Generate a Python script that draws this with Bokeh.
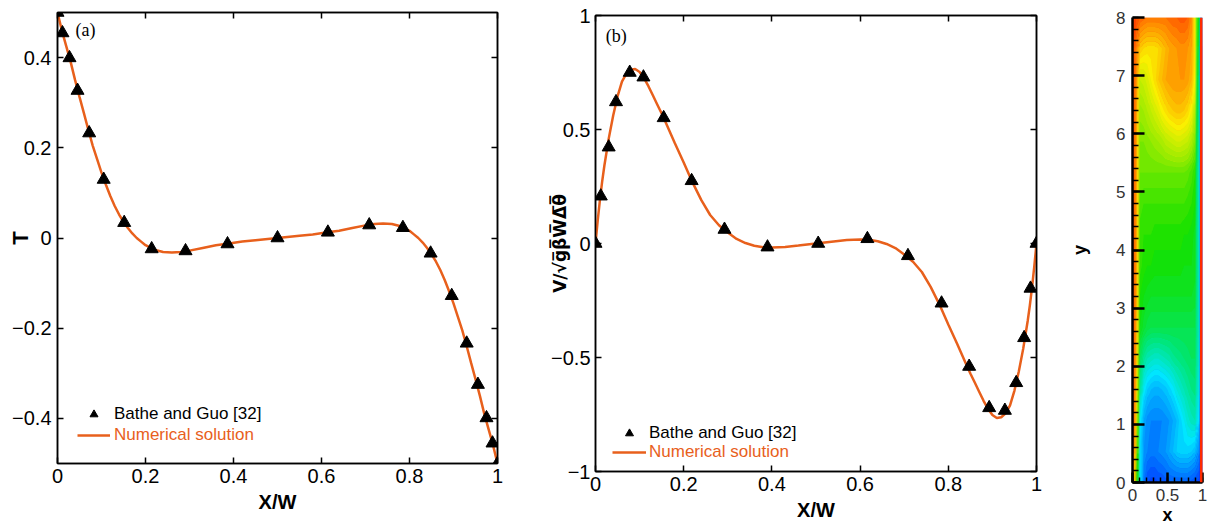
import numpy as np
from bokeh.plotting import figure
from bokeh.layouts import row, column
from bokeh.models import (FixedTicker, LinearAxis, Legend, LegendItem, Label,
                          Span, LinearColorMapper, Spacer)
from bokeh.embed import file_html
from bokeh.resources import INLINE

# ---------------- data: panel (a) temperature profile ----------------
ref_x_a = [0.0, 0.0113, 0.0273, 0.0455, 0.072, 0.105, 0.1516, 0.214, 0.291, 0.3864, 0.5,
           0.6145, 0.7085, 0.785, 0.848, 0.896, 0.930, 0.9555, 0.975, 0.9887, 1.0]
ref_T_a = [0.5, 0.4546, 0.3993, 0.327, 0.2327, 0.1297, 0.034, -0.0243, -0.0287, -0.0133, 0.0,
           0.0126, 0.0287, 0.0228, -0.0339, -0.128, -0.2335, -0.325, -0.399, -0.455, -0.5]

num_x_a = [0.0, 0.01, 0.02, 0.03, 0.04, 0.05, 0.06, 0.07, 0.08, 0.09, 0.10, 0.11, 0.12, 0.13,
           0.14, 0.15, 0.16, 0.17, 0.18, 0.19, 0.20, 0.22, 0.24, 0.26, 0.28, 0.30, 0.33, 0.36,
           0.39, 0.42, 0.45, 0.50, 0.55, 0.58, 0.61, 0.64, 0.67, 0.70, 0.72, 0.74, 0.76, 0.78,
           0.80, 0.81, 0.82, 0.83, 0.84, 0.85, 0.86, 0.87, 0.88, 0.89, 0.90, 0.91, 0.92, 0.93,
           0.94, 0.95, 0.96, 0.97, 0.98, 0.99, 1.0]
num_T_a = [0.5, 0.46, 0.425, 0.39, 0.35, 0.313, 0.277, 0.24, 0.205, 0.175, 0.145, 0.118, 0.093,
           0.071, 0.052, 0.036, 0.022, 0.010, 0.0, -0.008, -0.016, -0.026, -0.031, -0.032,
           -0.031, -0.028, -0.022, -0.016, -0.012, -0.008, -0.005, 0.0, 0.005, 0.008, 0.012,
           0.016, 0.022, 0.028, 0.031, 0.032, 0.031, 0.026, 0.016, 0.008, 0.0, -0.010, -0.022,
           -0.036, -0.052, -0.071, -0.093, -0.118, -0.145, -0.175, -0.205, -0.24, -0.277,
           -0.313, -0.35, -0.39, -0.425, -0.46, -0.5]

# ---------------- data: panel (b) vertical velocity profile ----------------
ref_x_b = [0.0, 0.012, 0.0299, 0.0465, 0.0776, 0.1087, 0.1546, 0.218, 0.2925, 0.39, 0.505,
           0.6165, 0.7085, 0.7847, 0.8473, 0.8927, 0.9283, 0.954, 0.972, 0.9864, 1.0]
ref_V_b = [0.0, 0.2075, 0.4225, 0.621, 0.75, 0.7295, 0.551, 0.275, 0.0614, -0.016, 0.0,
           0.0206, -0.054, -0.262, -0.5395, -0.7208, -0.7325, -0.611, -0.4137, -0.197, 0.0]

num_x_b = [0.0, 0.005, 0.01, 0.015, 0.02, 0.03, 0.04, 0.05, 0.06, 0.07, 0.08, 0.09, 0.10, 0.11,
           0.12, 0.13, 0.14, 0.15, 0.16, 0.18, 0.20, 0.22, 0.24, 0.26, 0.28, 0.30, 0.32, 0.34,
           0.36, 0.38, 0.40, 0.43, 0.46, 0.50, 0.54, 0.57, 0.60, 0.62, 0.64, 0.66, 0.68, 0.70,
           0.72, 0.74, 0.76, 0.78, 0.80, 0.82, 0.84, 0.85, 0.86, 0.87, 0.88, 0.89, 0.90, 0.91,
           0.92, 0.93, 0.94, 0.95, 0.96, 0.97, 0.98, 0.985, 0.99, 0.995, 1.0]
num_V_b = [0.0, 0.10, 0.19, 0.27, 0.34, 0.46, 0.56, 0.645, 0.71, 0.745, 0.762, 0.765, 0.752,
           0.725, 0.69, 0.65, 0.61, 0.57, 0.527, 0.44, 0.355, 0.268, 0.19, 0.125, 0.08, 0.048,
           0.02, 0.002, -0.01, -0.016, -0.017, -0.015, -0.009, 0.0, 0.009, 0.015, 0.017, 0.016,
           0.01, -0.002, -0.02, -0.048, -0.08, -0.125, -0.19, -0.268, -0.355, -0.44, -0.527,
           -0.57, -0.61, -0.65, -0.69, -0.725, -0.752, -0.765, -0.762, -0.745, -0.71, -0.645,
           -0.56, -0.46, -0.34, -0.27, -0.19, -0.10, 0.0]

# ---------------- data: panel (c) temperature field (rows top -> bottom) ----------------
field_rows_top_down = [
    [0.45, 0.44, 0.42, 0.41, 0.40, 0.40, 0.40, 0.40, 0.40, 0.40, 0.41, 0.42, 0.42, 0.43, 0.43, 0.42, 0.38, 0.25, -0.05, -0.40],
    [0.45, 0.38, 0.30, 0.28, 0.27, 0.27, 0.27, 0.28, 0.30, 0.32, 0.34, 0.35, 0.36, 0.37, 0.37, 0.36, 0.34, 0.26, -0.10, -0.45],
    [0.45, 0.35, 0.18, 0.19, 0.21, 0.24, 0.27, 0.30, 0.32, 0.34, 0.35, 0.36, 0.36, 0.36, 0.36, 0.35, 0.32, 0.24, -0.14, -0.45],
    [0.45, 0.34, 0.13, 0.14, 0.16, 0.18, 0.20, 0.22, 0.25, 0.27, 0.29, 0.30, 0.31, 0.31, 0.30, 0.28, 0.24, 0.16, -0.15, -0.45],
    [0.45, 0.33, 0.10, 0.10, 0.11, 0.12, 0.13, 0.14, 0.15, 0.17, 0.18, 0.19, 0.20, 0.20, 0.19, 0.18, 0.15, 0.10, -0.17, -0.45],
    [0.45, 0.33, 0.08, 0.08, 0.08, 0.08, 0.08, 0.08, 0.08, 0.08, 0.08, 0.08, 0.08, 0.08, 0.08, 0.07, 0.05, 0.02, -0.19, -0.45],
    [0.45, 0.33, 0.05, 0.04, 0.04, 0.04, 0.04, 0.04, 0.04, 0.04, 0.04, 0.04, 0.04, 0.04, 0.04, 0.03, 0.02, 0.00, -0.19, -0.45],
    [0.45, 0.33, 0.03, 0.02, 0.02, 0.02, 0.01, 0.01, 0.01, 0.01, 0.01, 0.01, 0.01, 0.01, 0.00, 0.00, -0.01, -0.03, -0.19, -0.45],
    [0.45, 0.33, 0.03, 0.01, 0.00, 0.00, -0.01, -0.01, -0.01, -0.01, -0.01, -0.01, -0.01, -0.01, -0.02, -0.02, -0.02, -0.03, -0.19, -0.45],
    [0.45, 0.32, 0.00, -0.02, -0.03, -0.04, -0.04, -0.04, -0.04, -0.04, -0.04, -0.04, -0.04, -0.04, -0.04, -0.04, -0.04, -0.05, -0.19, -0.45],
    [0.45, 0.31, -0.02, -0.05, -0.07, -0.08, -0.08, -0.08, -0.08, -0.08, -0.08, -0.08, -0.08, -0.08, -0.08, -0.08, -0.08, -0.08, -0.19, -0.45],
    [0.45, 0.29, -0.10, -0.15, -0.18, -0.19, -0.20, -0.20, -0.19, -0.18, -0.17, -0.15, -0.14, -0.13, -0.12, -0.11, -0.10, -0.10, -0.20, -0.45],
    [0.45, 0.26, -0.16, -0.24, -0.28, -0.30, -0.31, -0.31, -0.30, -0.29, -0.27, -0.25, -0.22, -0.20, -0.18, -0.16, -0.14, -0.13, -0.22, -0.45],
    [0.45, 0.22, -0.24, -0.32, -0.35, -0.36, -0.36, -0.36, -0.36, -0.35, -0.34, -0.32, -0.30, -0.27, -0.24, -0.21, -0.19, -0.18, -0.26, -0.45],
    [0.45, 0.15, -0.26, -0.34, -0.36, -0.37, -0.37, -0.36, -0.35, -0.34, -0.32, -0.30, -0.28, -0.27, -0.27, -0.27, -0.28, -0.30, -0.35, -0.45],
    [0.40, 0.05, -0.25, -0.38, -0.42, -0.43, -0.43, -0.42, -0.42, -0.41, -0.40, -0.40, -0.40, -0.40, -0.40, -0.40, -0.41, -0.42, -0.43, -0.45],
]

x_ticks = [0, 0.2, 0.4, 0.6, 0.8, 1]
y_ticks_a = [-0.4, -0.2, 0, 0.2, 0.4]
y_ticks_b = [-1, -0.5, 0, 0.5, 1]

# ---------------- styling ----------------
ORANGE = "#E8601C"
FONT = "Liberation Sans"


def frame_axes(p, xt, yt):
    p.grid.visible = False
    p.outline_line_color = "black"
    p.outline_line_width = 1.5
    p.xaxis.ticker = FixedTicker(ticks=xt)
    p.yaxis.ticker = FixedTicker(ticks=yt)
    for ax in p.xaxis + p.yaxis:
        ax.major_tick_in = 6
        ax.major_tick_out = 0
        ax.minor_tick_in = 0
        ax.minor_tick_out = 0
        ax.axis_line_width = 1.5
        ax.major_tick_line_width = 1.5
        ax.major_label_text_font = FONT
        ax.major_label_text_font_size = "20px"
        ax.major_label_text_color = "black"
        ax.axis_label_text_font = FONT
        ax.axis_label_text_font_style = "bold"
        ax.axis_label_text_font_size = "20px"
        ax.axis_label_text_color = "black"
    for place, t in (("above", xt), ("right", yt)):
        ax = LinearAxis(ticker=FixedTicker(ticks=t), major_label_text_font_size="1px",
                        major_label_text_color=None,
                        major_label_standoff=0, major_tick_in=6, major_tick_out=0,
                        minor_tick_in=0, minor_tick_out=0, axis_line_width=1.5,
                        major_tick_line_width=1.5)
        p.add_layout(ax, place)


def legends(p, sc, ln, x0, y_sc, y_ln, gw, standoff):
    common = dict(border_line_color=None, background_fill_alpha=0, padding=0, margin=0,
                  spacing=0, glyph_width=gw, glyph_height=20, label_height=20,
                  label_standoff=standoff, label_text_font=FONT,
                  label_text_font_size="17px")
    l1 = Legend(items=[LegendItem(label="Bathe and Guo [32]", renderers=[sc])],
                location=(x0, y_sc), label_text_color="black", **common)
    l2 = Legend(items=[LegendItem(label="Numerical solution", renderers=[ln])],
                location=(x0, y_ln), label_text_color=ORANGE, **common)
    p.add_layout(l1)
    p.add_layout(l2)


# ---------------- panel (a) ----------------
p1 = figure(x_range=(0, 1), y_range=(-0.5, 0.5), frame_width=440, frame_height=451,
            min_border_left=57, min_border_right=41, min_border_top=12, min_border_bottom=50,
            output_backend="svg", toolbar_location=None, title=None,
            x_axis_label="X/W", y_axis_label="T")
frame_axes(p1, x_ticks, y_ticks_a)
p1.yaxis[0].major_label_standoff = 6
p1.yaxis[0].axis_label_standoff = -24
p1.yaxis[0].axis_label_text_font_size = "22px"
p1.xaxis[0].major_label_standoff = 6
p1.xaxis[0].axis_label_standoff = -16
ln1 = p1.line(num_x_a, num_T_a, line_color=ORANGE, line_width=2.5)
sc1 = p1.scatter(ref_x_a, ref_T_a, marker="triangle", size=13, color="black")
legends(p1, sc1, ln1, 20, 39, 18, 33, 4)
p1.add_layout(Label(x=0.041, y=0.461, text="(a)", text_font="Liberation Serif",
                    text_baseline="middle", text_font_size="18px", text_color="black"))

# ---------------- panel (b) ----------------
vlabel = "V/\u221a" + "".join(c + "\u0305" for c in "g\u03b2W\u0394\u03b8")
p2 = figure(x_range=(0, 1), y_range=(-1, 1), frame_width=441, frame_height=456,
            min_border_left=57, min_border_right=31, min_border_top=12, min_border_bottom=40,
            output_backend="svg", toolbar_location=None, title=None,
            x_axis_label="X/W", y_axis_label=vlabel)
frame_axes(p2, x_ticks, y_ticks_b)
p2.yaxis[0].major_label_standoff = 5
p2.yaxis[0].axis_label_standoff = -22
p2.yaxis[0].axis_label_text_font = "DejaVu Sans"
p2.yaxis[0].axis_label_text_font_size = "17px"
p2.xaxis[0].major_label_standoff = 3
p2.xaxis[0].axis_label_standoff = -23
ln2 = p2.line(num_x_b, num_V_b, line_color=ORANGE, line_width=2.5)
sc2 = p2.scatter(ref_x_b, ref_V_b, marker="triangle", size=13, color="black")
legends(p2, sc2, ln2, 17, 28, 9, 34, 3)
p2.add_layout(Label(x=0.023, y=0.912, text="(b)", text_font="Liberation Serif",
                    text_baseline="middle", text_font_size="18px", text_color="black"))

# ---------------- panel (c) ----------------
anchors = [(-0.5, (0, 0, 255)), (-0.375, (0, 120, 255)), (-0.25, (0, 230, 255)),
           (-0.125, (0, 230, 120)), (0.0, (20, 225, 0)), (0.125, (150, 235, 0)),
           (0.25, (250, 240, 0)), (0.375, (255, 140, 0)), (0.5, (255, 20, 0))]
av = [a[0] for a in anchors]


def colour(v):
    rgb = [int(round(np.interp(v, av, [a[1][k] for a in anchors]))) for k in range(3)]
    return "#%02x%02x%02x" % tuple(rgb)


palette = [colour(v) for v in np.linspace(-0.5, 0.5, 256)]
levels = list(np.linspace(-0.5, 0.5, 51))
band_colours = [colour(0.5 * (levels[i] + levels[i + 1])) for i in range(len(levels) - 1)]
mapper = LinearColorMapper(palette=palette, low=-0.5, high=0.5)

field = np.array(field_rows_top_down[::-1], dtype=float)
ny, nx = field.shape
x_nodes = np.linspace(0, 1, nx)
y_nodes = np.linspace(0, 8, ny)

p3 = figure(x_range=(0, 1), y_range=(0, 8), frame_width=70, frame_height=465,
            min_border_left=64, min_border_right=6, min_border_top=12, min_border_bottom=40,
            output_backend="svg", toolbar_location=None, title=None,
            x_axis_label="x", y_axis_label="y")
p3.grid.visible = False
p3.outline_line_color = None
p3.image(image=[field], x=0, y=0, dw=1, dh=8, color_mapper=mapper)
p3.contour(x=x_nodes, y=y_nodes, z=field, levels=levels, fill_color=band_colours,
           line_color=None)
p3.add_layout(Span(location=0.985, dimension="height", line_color="#ff2a00", line_width=3))
p3.xaxis.ticker = FixedTicker(ticks=[0, 0.5, 1],
                              minor_ticks=list(np.round(np.arange(0, 1.01, 0.1), 2)))
p3.yaxis.ticker = FixedTicker(ticks=list(range(9)),
                              minor_ticks=list(np.round(np.arange(0, 8.01, 0.2), 2)))
for ax in p3.xaxis + p3.yaxis:
    ax.major_tick_out = 0
    ax.minor_tick_out = 0
    ax.axis_line_width = 2.5
    ax.major_tick_line_width = 2.5
    ax.minor_tick_line_width = 1.5
    ax.major_label_text_font = FONT
    ax.major_label_text_font_size = "17px"
    ax.major_label_text_color = "#333333"
    ax.axis_label_text_font = FONT
    ax.axis_label_text_font_style = "bold"
    ax.axis_label_text_font_size = "18px"
    ax.axis_label_text_color = "black"
p3.yaxis[0].major_tick_in = 12
p3.yaxis[0].minor_tick_in = 6
p3.yaxis[0].major_label_standoff = 7
p3.yaxis[0].axis_label_standoff = 23
p3.xaxis[0].major_tick_in = 10
p3.xaxis[0].minor_tick_in = 5
p3.xaxis[0].major_label_standoff = 6
p3.xaxis[0].axis_label_standoff = 1

layout = row(column(p1), column(Spacer(width=1, height=3), p2),
             column(Spacer(width=1, height=5), p3), spacing=0)
open("out.html", "w").write(file_html(layout, INLINE, title="profiles"))
